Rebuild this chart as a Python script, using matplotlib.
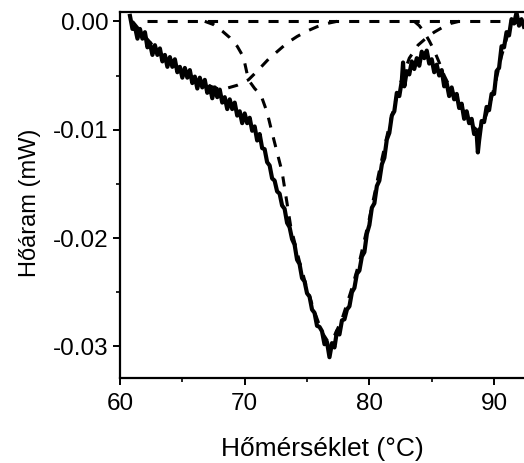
import matplotlib
matplotlib.use("Agg")
from matplotlib import pyplot as plt
from matplotlib.ticker import MultipleLocator, FormatStrFormatter

plt.rcParams['font.family'] = ['Liberation Sans', 'DejaVu Sans']
plt.rcParams['axes.unicode_minus'] = False

# measured DSC curve, read off the picture: upper and lower edge of the
# noisy band taken in turn, plus the few big spikes
temp = [60.8, 61.0, 61.2, 61.4, 61.6, 61.8, 62.0, 62.2, 62.4, 62.6, 62.8, 63.0,
        63.2, 63.4, 63.6, 63.8, 64.0, 64.2, 64.4, 64.6, 64.8, 65.0, 65.2, 65.4,
        65.6, 65.8, 66.0, 66.2, 66.4, 66.6, 66.8, 67.0, 67.2, 67.4, 67.6, 67.8,
        68.0, 68.2, 68.4, 68.6, 68.8, 69.0, 69.2, 69.4, 69.6, 69.8, 70.0, 70.2,
        70.4, 70.6, 70.8, 71.0, 71.2, 71.4, 71.6, 71.8, 72.0, 72.2, 72.4, 72.6,
        72.8, 73.0, 73.2, 73.4, 73.6, 73.8, 74.0, 74.2, 74.4, 74.6, 74.8, 75.0,
        75.2, 75.4, 75.6, 75.8, 76.0, 76.2, 76.4, 76.6, 76.8, 77.0, 77.2, 77.4,
        77.6, 77.8, 78.0, 78.2, 78.4, 78.6, 78.8, 79.0, 79.2, 79.4, 79.6, 79.8,
        80.0, 80.2, 80.4, 80.6, 80.8, 81.0, 81.2, 81.4, 81.6, 81.8, 82.0, 82.2,
        82.4, 82.6, 82.7, 82.8, 83.0, 83.2, 83.4, 83.6, 83.8, 84.0, 84.2, 84.4,
        84.6, 84.8, 85.0, 85.2, 85.4, 85.6, 85.8, 86.0, 86.2, 86.4, 86.6, 86.8,
        87.0, 87.2, 87.4, 87.6, 87.8, 88.0, 88.2, 88.4, 88.6, 88.7, 88.8, 89.0,
        89.2, 89.4, 89.6, 89.8, 90.0, 90.2, 90.4, 90.6, 90.8, 91.0, 91.2, 91.4,
        91.6, 91.8, 92.0, 92.2, 92.4]
heat = [0.0005, -0.0007, -0.0005, -0.0016, -0.0007, -0.0016, -0.0010, -0.0024,
        -0.0020, -0.0031, -0.0022, -0.0031, -0.0025, -0.0037, -0.0031, -0.0042,
        -0.0033, -0.0042, -0.0035, -0.0047, -0.0042, -0.0052, -0.0043, -0.0052,
        -0.0045, -0.0057, -0.0051, -0.0062, -0.0052, -0.0061, -0.0054, -0.0066,
        -0.0060, -0.0071, -0.0061, -0.0070, -0.0063, -0.0075, -0.0070, -0.0081,
        -0.0072, -0.0081, -0.0075, -0.0087, -0.0083, -0.0094, -0.0085, -0.0094,
        -0.0089, -0.0101, -0.0097, -0.0110, -0.0104, -0.0117, -0.0118, -0.0130,
        -0.0133, -0.0145, -0.0147, -0.0157, -0.0159, -0.0170, -0.0173, -0.0186,
        -0.0190, -0.0201, -0.0206, -0.0220, -0.0224, -0.0237, -0.0240, -0.0251,
        -0.0254, -0.0266, -0.0269, -0.0281, -0.0282, -0.0286, -0.0298, -0.0296,
        -0.0310, -0.0297, -0.0301, -0.0286, -0.0289, -0.0276, -0.0275, -0.0266,
        -0.0263, -0.0250, -0.0246, -0.0233, -0.0230, -0.0217, -0.0213, -0.0196,
        -0.0188, -0.0172, -0.0168, -0.0152, -0.0147, -0.0132, -0.0126, -0.0109,
        -0.0103, -0.0087, -0.0083, -0.0066, -0.0069, -0.0055, -0.0038, -0.0060,
        -0.0046, -0.0049, -0.0037, -0.0044, -0.0034, -0.0041, -0.0028, -0.0034,
        -0.0027, -0.0039, -0.0035, -0.0047, -0.0040, -0.0050, -0.0045, -0.0060,
        -0.0057, -0.0069, -0.0061, -0.0072, -0.0067, -0.0080, -0.0076, -0.0090,
        -0.0083, -0.0094, -0.0090, -0.0104, -0.0103, -0.0121, -0.0110, -0.0092,
        -0.0093, -0.0079, -0.0082, -0.0067, -0.0067, -0.0046, -0.0043, -0.0023,
        -0.0024, -0.0010, -0.0013, 0.0002, -0.0002, 0.0008, -0.0004, 0.0002,
        -0.0005]

# fitted components (dashed)
base_t = [62.2, 92.5]
base_v = [0.0, 0.0]

peak1_t = [66.8, 67.5, 68.2, 68.8, 69.4, 69.9, 70.3, 70.8, 71.3, 71.8, 72.2, 72.6,
           73.0, 73.7, 74.4, 75.0, 75.6, 76.2, 76.7, 77.2, 77.8, 78.5, 79.2, 80.0,
           80.8, 81.6, 82.4, 83.2, 83.9, 84.6, 85.2, 85.8, 86.5, 87.2]
peak1_v = [0.0, -0.0003, -0.0009, -0.0015, -0.0023, -0.0033, -0.0054, -0.0062,
           -0.0068, -0.0084, -0.0103, -0.0121, -0.0139, -0.0190, -0.0222, -0.0247,
           -0.0268, -0.0287, -0.0296, -0.0290, -0.0275, -0.0250, -0.0222, -0.0182,
           -0.0138, -0.0096, -0.0060, -0.0034, -0.0022, -0.0015, -0.0010, -0.0006,
           -0.0002, 0.0]

peak2_t = [61.0, 62.0, 63.0, 64.0, 65.0, 66.0, 67.0, 67.8, 68.5, 69.4, 70.3, 71.0,
           71.9, 72.6, 73.4, 74.2, 75.0, 75.8, 76.6, 77.4]
peak2_v = [0.0, -0.0014, -0.0027, -0.0037, -0.0046, -0.0053, -0.0059, -0.0062,
           -0.0062, -0.0059, -0.0054, -0.0046, -0.0035, -0.0028, -0.0020, -0.0014,
           -0.0009, -0.0005, -0.0002, 0.0]

peak3_t = [83.6, 84.0, 84.4, 84.8, 85.2, 85.6, 86.0, 86.6, 87.2, 87.8, 88.3, 88.7,
           89.1, 89.6, 90.1, 90.6, 91.1, 91.6, 92.0]
peak3_v = [0.0, -0.0004, -0.0010, -0.0018, -0.0027, -0.0038, -0.0050, -0.0064,
           -0.0076, -0.0088, -0.0097, -0.0101, -0.0095, -0.0079, -0.0057, -0.0032,
           -0.0012, -0.0002, 0.0]

fig = plt.figure(figsize=(5.24, 4.63), dpi=100)
ax = fig.add_axes([0.229, 0.184, 0.771, 0.791])

dash = dict(color='black', lw=2.2, ls=(0, (3.3, 3.3)))
ax.plot(base_t, base_v, **dash)
ax.plot(peak1_t, peak1_v, **dash)
ax.plot(peak2_t, peak2_v, **dash)
ax.plot(peak3_t, peak3_v, **dash)
ax.plot(temp, heat, color='black', lw=3.0)

ax.set_xlim(60, 92.4)
ax.set_ylim(-0.0329, 0.0009)
ax.xaxis.set_major_locator(MultipleLocator(10))
ax.xaxis.set_minor_locator(MultipleLocator(5))
ax.yaxis.set_major_locator(MultipleLocator(0.01))
ax.yaxis.set_minor_locator(MultipleLocator(0.005))
ax.yaxis.set_major_formatter(FormatStrFormatter('%.2f'))

ax.spines['right'].set_visible(False)
for s in ['left', 'bottom', 'top']:
    ax.spines[s].set_linewidth(1.6)
ax.tick_params(which='major', direction='out', length=5, width=1.4,
               labelsize=17.5, pad=3)
ax.tick_params(axis='x', which='major', pad=6)
ax.tick_params(which='minor', direction='out', length=3, width=1.2)

ax.set_xlabel('Hőmérséklet (°C)', fontsize=19, labelpad=16)
ax.set_ylabel('Hőáram (mW)', fontsize=17)
ax.yaxis.set_label_coords(-0.195, 0.478)

fig.savefig('out.png', dpi=100)
